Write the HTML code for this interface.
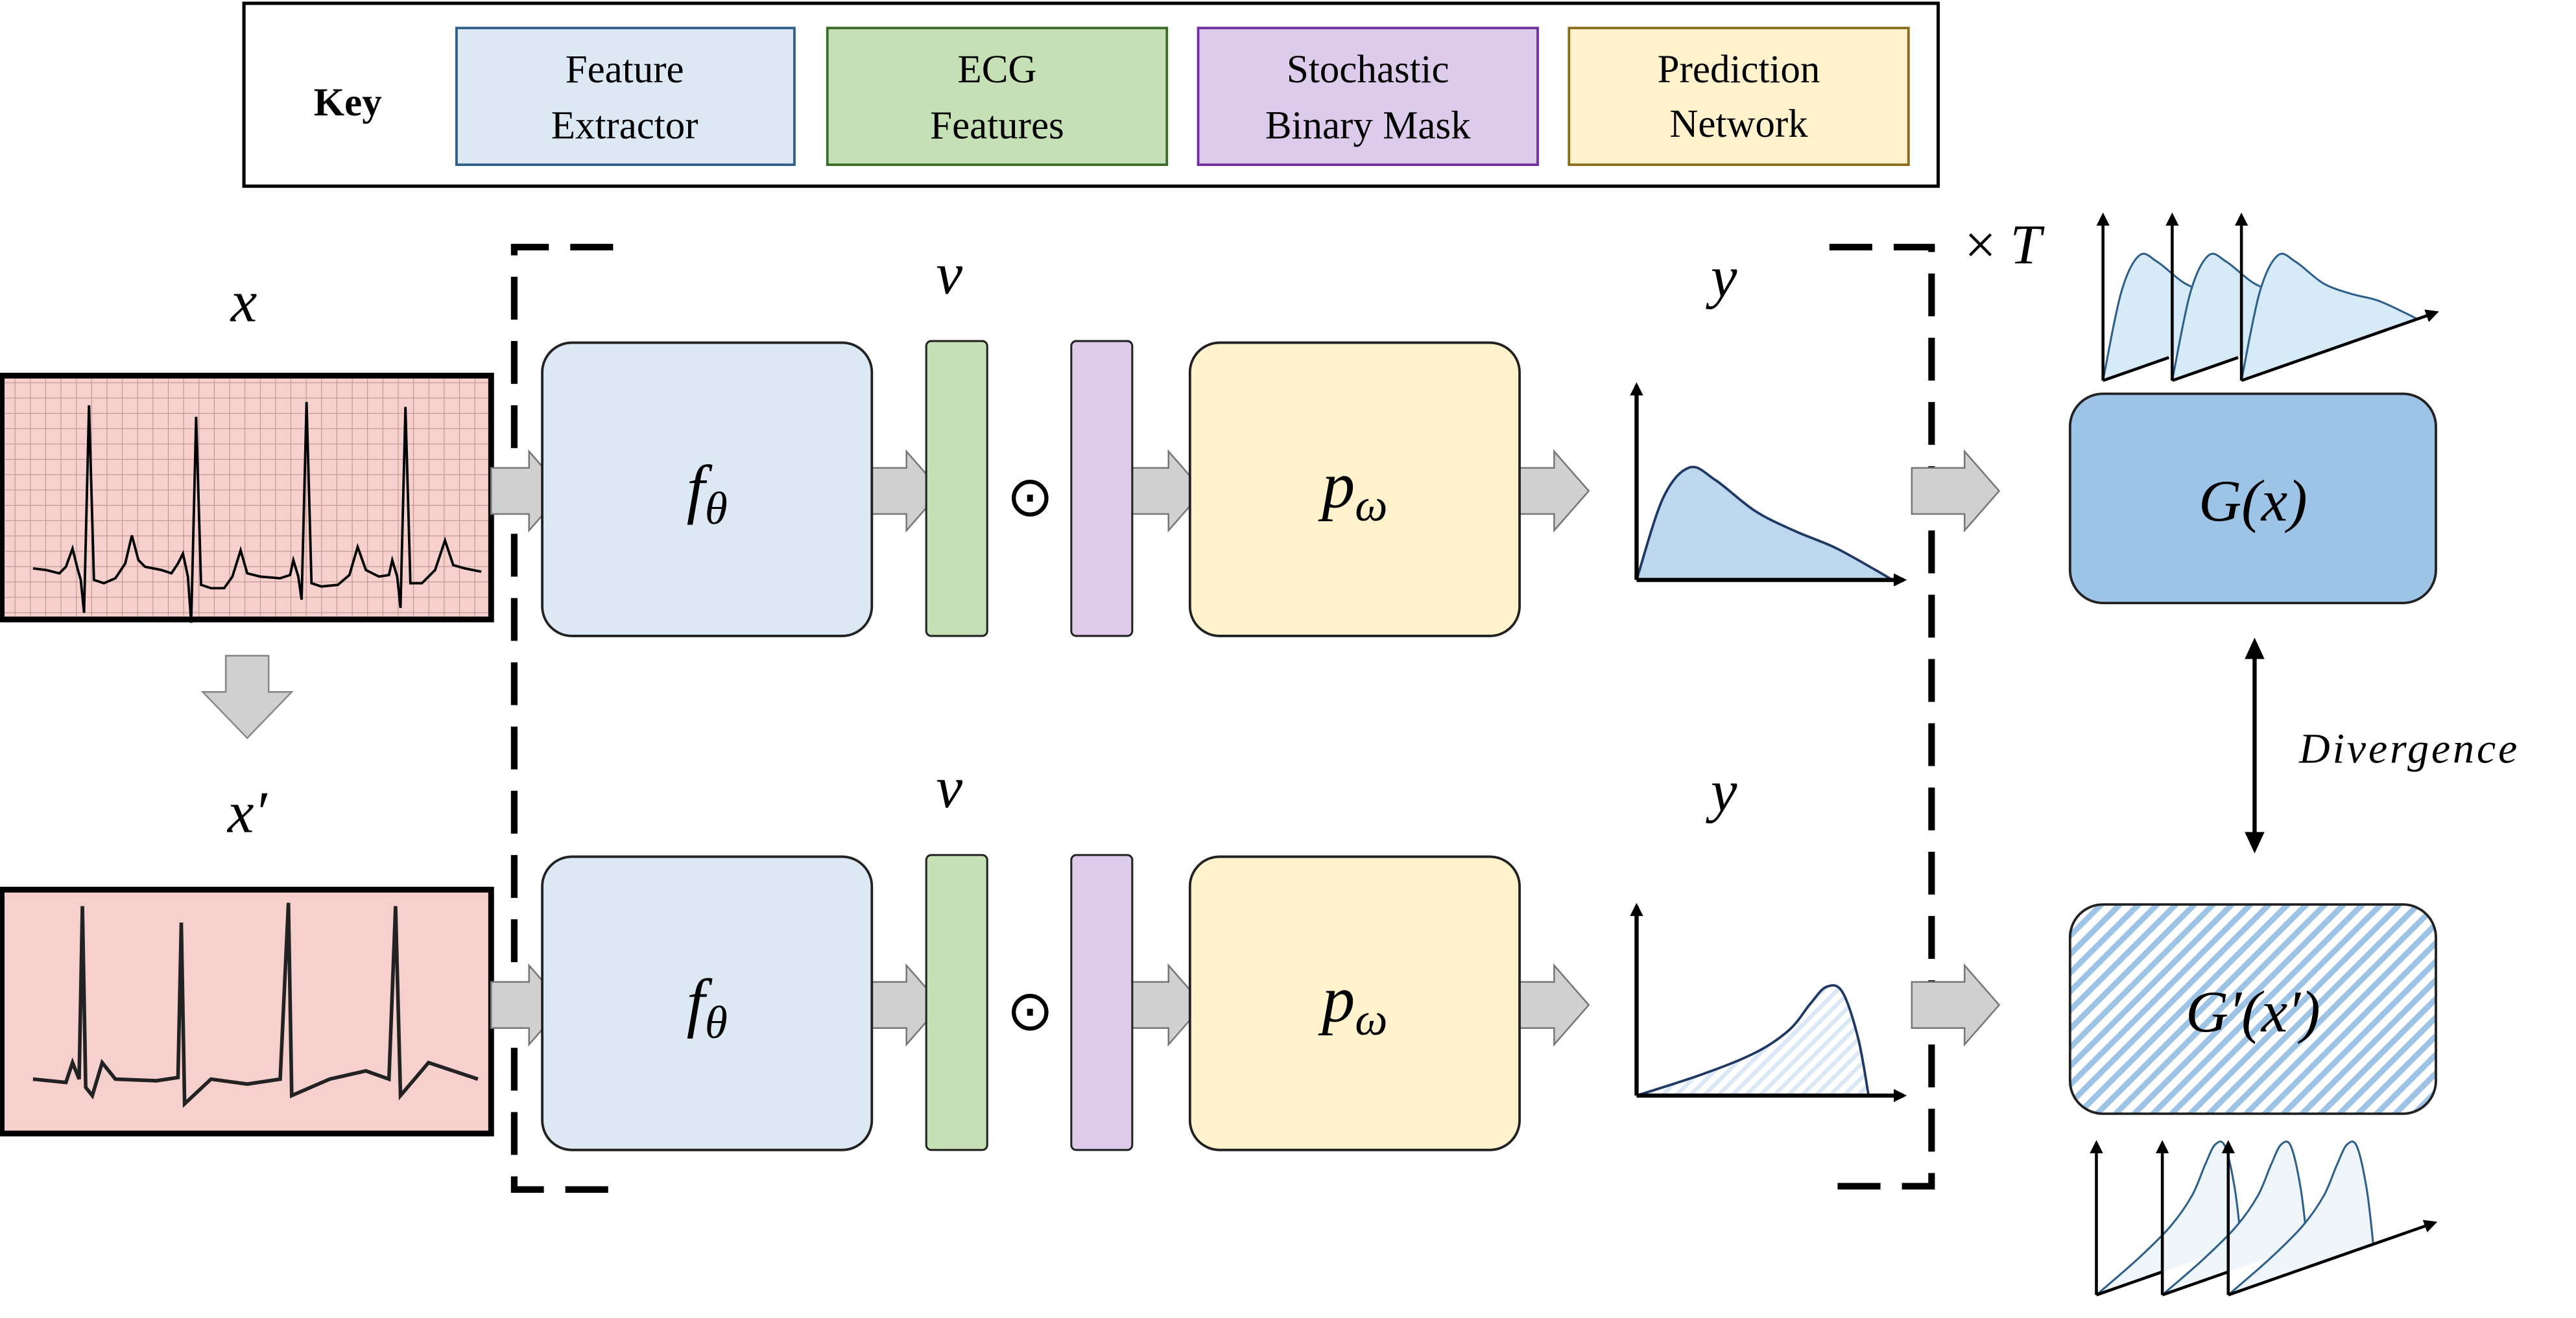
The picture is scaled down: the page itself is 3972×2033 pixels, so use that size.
<!DOCTYPE html>
<html><head><meta charset="utf-8"><style>
html,body{margin:0;padding:0;background:#fff;width:3972px;height:2033px;overflow:hidden}
svg{display:block}
.serif{font-family:"Liberation Serif",serif}
</style></head><body>
<svg id="fig" width="3972" height="2033" viewBox="0 0 1563 800" xmlns="http://www.w3.org/2000/svg">
<defs>
<pattern id="grid" width="9.3" height="9.3" patternUnits="userSpaceOnUse"><path d="M9.3 0V9.3M0 9.3H9.3" stroke="#b8908c" stroke-width="0.8" fill="none"/></pattern>
<pattern id="hatch" width="8" height="8" patternUnits="userSpaceOnUse" patternTransform="rotate(45)"><rect width="8" height="8" fill="#fff"/><rect width="3.5" height="8" fill="#9dc3e6"/></pattern>
<pattern id="hatch2" width="6" height="6" patternUnits="userSpaceOnUse" patternTransform="rotate(45)"><rect width="6" height="6" fill="#fff"/><rect width="2.5" height="6" fill="#dae8f5"/></pattern>
<marker id="ah" markerWidth="8" markerHeight="8" refX="6" refY="4" orient="auto" markerUnits="userSpaceOnUse"><path d="M0,0 L8,4 L0,8z" fill="#000"/></marker>
</defs>

<g>
<rect x="148" y="2" width="1028" height="111" fill="#fff" stroke="#000" stroke-width="2"/>
<text x="211" y="70" font-size="24" font-weight="bold" class="serif" text-anchor="middle">Key</text>
<g><rect x="277" y="17" width="205" height="83" fill="#dde8f5" stroke="#2e5f8a" stroke-width="1.5"/><text x="379" y="50" font-size="24" class="serif" text-anchor="middle">Feature</text><text x="379" y="84" font-size="24" class="serif" text-anchor="middle">Extractor</text></g>
<g><rect x="502" y="17" width="206" height="83" fill="#c5e0b4" stroke="#3a6b2a" stroke-width="1.5"/><text x="605" y="50" font-size="24" class="serif" text-anchor="middle">ECG</text><text x="605" y="84" font-size="24" class="serif" text-anchor="middle">Features</text></g>
<g><rect x="727" y="17" width="206" height="83" fill="#dccbeb" stroke="#7030a0" stroke-width="1.5"/><text x="830" y="50" font-size="24" class="serif" text-anchor="middle">Stochastic</text><text x="830" y="84" font-size="24" class="serif" text-anchor="middle">Binary Mask</text></g>
<g><rect x="952" y="17" width="206" height="83" fill="#fff2cc" stroke="#8a6d1a" stroke-width="1.5"/><text x="1055" y="50" font-size="24" class="serif" text-anchor="middle">Prediction</text><text x="1055" y="83" font-size="24" class="serif" text-anchor="middle">Network</text></g>
</g>

<g stroke="#000" stroke-width="4" fill="none" stroke-dasharray="26 13">
<path d="M372 150 H312 V722 H372"/>
<path d="M1110 150 H1172 V720 H1110"/>
</g>
<text x="1192" y="160" font-size="34" class="serif">× <tspan font-style="italic">T</tspan></text>

<g class="serif" font-style="italic" font-size="36" text-anchor="middle">
<text x="148" y="195">x</text>
<text x="150" y="505">x′</text>
<text x="576" y="178">v</text>
<text x="576" y="490">v</text>
<text x="1046" y="180">y</text>
<text x="1046" y="492">y</text>
</g>

<g>
<rect x="1" y="228" width="297" height="148" fill="#f5d0cc"/>
<rect x="1" y="228" width="297" height="148" fill="url(#grid)"/>
<path d="M40 345 L50 347 L60 348 L70 348 L75 346 L78 339 L81 348 L84 352 L87 368 L90 243 L93 352 L98 353 L104 350 L110 343 L113 330 L117 342 L120 345 L130 346 L150 350 L165 351 L170 349 L173 340 L176 349 L179 353 L182 375 L184 246 L187 358 L192 360 L200 359 L206 350 L210 333 L214 346 L220 350 L240 350 L258 352 L262 340 L266 352 L269 369 L271 241 L274 353 L280 353 L287 341 L292 345" transform="translate(-42,0)" fill="none" stroke="none"/>
<path d="M40 345 L50 347 L62 347 L70 346 L74 350 L78 342 L82 336 L86 348 L89 356 L91 372 L93 243 L96 352 L101 352 L110 350 L116 339 L120 334 L124 344 L130 347 L145 349 L160 351 L172 350 L176 343 L180 349 L184 355 L186 376 L188 263 L191 356 L198 359 L212 361 L218 346 L222 336 L226 349 L236 350 L252 350 L260 351 L264 343 L268 349 L272 353 L274 370 L276 248 L279 356 L286 354 L291 343 L296 345" fill="none" stroke="none"/>
<path d="M40 345 L52 347 L64 348 L78 347 L85 346 L88 340 L92 338 L95 348 L98 352 L101 367 L104 247 L108 351 L114 352 L122 350 L128 341 L132 332 L137 345 L145 347 L160 349 L175 350 L188 350 L192 339 L196 349 L199 354 L202 376 L205 252 L209 357 L216 358 L226 359 L232 345 L236 335 L241 348 L250 350 L266 351 L277 351 L282 338 L286 349 L289 352 L291 368 L293 245 L296 353" fill="none" stroke="none"/>
<path d="M20 345 L28 346 L36 348 L40 344 L44 333 L47 345 L49 352 L51 372 L54 246 L57 352 L63 354 L70 351 L76 342 L80 325 L84 340 L88 344 L98 346 L104 348 L108 342 L111 336 L114 350 L116 378 L119 253 L122 355 L128 357 L136 357 L141 350 L146 334 L150 348 L158 350 L170 351 L176 349 L178 340 L181 350 L183 364 L186 244 L189 354 L195 356 L205 355 L212 349 L217 332 L222 346 L230 350 L236 349 L238 340 L241 350 L243 369 L246 247 L249 354 L256 354 L264 346 L270 328 L275 343 L282 345 L292 347" fill="none" stroke="#000" stroke-width="1.5"/>
<rect x="1" y="228" width="297" height="148" fill="none" stroke="#000" stroke-width="3.5"/>
</g>
<g>
<rect x="1" y="540" width="297" height="148" fill="#f5d0cc"/>
<path d="M20 655 L40 657 L44 645 L48 655 L50 550 L52 660 L56 665 L62 645 L70 655 L95 656 L108 654 L110 560 L112 670 L128 655 L150 658 L170 655 L175 548 L177 665 L200 655 L222 650 L236 655 L240 550 L243 665 L260 645 L290 655" fill="none" stroke="#222" stroke-width="2.2"/>
<rect x="1" y="540" width="297" height="148" fill="none" stroke="#000" stroke-width="3.5"/>
</g>

<path d="M137 398 H163 V420 H177 L150 448 L123 420 H137Z" fill="#d0d0d0" stroke="#888" stroke-width="1"/>

<g id="arrows"></g>

<g>
<rect x="329" y="208" width="200" height="178" rx="18" fill="#dde8f5" stroke="#222" stroke-width="1.5"/>
<text x="429" y="310" font-size="40" class="serif" font-style="italic" text-anchor="middle">f<tspan font-size="28" dy="8">θ</tspan></text>
<rect x="562" y="207" width="37" height="179" rx="3" fill="#c5e0b4" stroke="#222" stroke-width="1.2"/>
<text x="625" y="313" font-size="34" text-anchor="middle" font-family="DejaVu Sans,sans-serif">⊙</text>
<rect x="650" y="207" width="37" height="179" rx="3" fill="#dccbeb" stroke="#222" stroke-width="1.2"/>
<rect x="722" y="208" width="200" height="178" rx="18" fill="#fff2cc" stroke="#222" stroke-width="1.5"/>
<text x="822" y="308" font-size="40" class="serif" font-style="italic" text-anchor="middle">p<tspan font-size="28" dy="8">ω</tspan></text>
</g>
<g>
<rect x="329" y="520" width="200" height="178" rx="18" fill="#dde8f5" stroke="#222" stroke-width="1.5"/>
<text x="429" y="622" font-size="40" class="serif" font-style="italic" text-anchor="middle">f<tspan font-size="28" dy="8">θ</tspan></text>
<rect x="562" y="519" width="37" height="179" rx="3" fill="#c5e0b4" stroke="#222" stroke-width="1.2"/>
<text x="625" y="625" font-size="34" text-anchor="middle" font-family="DejaVu Sans,sans-serif">⊙</text>
<rect x="650" y="519" width="37" height="179" rx="3" fill="#dccbeb" stroke="#222" stroke-width="1.2"/>
<rect x="722" y="520" width="200" height="178" rx="18" fill="#fff2cc" stroke="#222" stroke-width="1.5"/>
<text x="822" y="620" font-size="40" class="serif" font-style="italic" text-anchor="middle">p<tspan font-size="28" dy="8">ω</tspan></text>
</g>

<g id="dist"></g>

<rect x="1256" y="239" width="222" height="127" rx="20" fill="#9dc3e6" stroke="#222" stroke-width="1.5"/>
<text x="1367" y="316" font-size="36" class="serif" font-style="italic" text-anchor="middle">G(x)</text>
<rect x="1256" y="549" width="222" height="127" rx="20" fill="url(#hatch)" stroke="#222" stroke-width="1.5"/>
<text x="1367" y="626" font-size="36" class="serif" font-style="italic" text-anchor="middle">G′(x′)</text>

<g>
<line x1="1368" y1="398" x2="1368" y2="508" stroke="#000" stroke-width="2.5"/>
<path d="M1368 387 L1362 400 L1374 400Z M1368 518 L1362 505 L1374 505Z" fill="#000"/>
</g>
<text x="1395" y="463" font-size="26" class="serif" font-style="italic" letter-spacing="1.5">Divergence</text>
</svg>
<script>
const topDistX=[0,0.1,0.2,0.3,0.45,0.6,0.75,0.9,0.97];
const topDistY=[0,0.45,0.62,0.55,0.38,0.27,0.18,0.06,0];
const botDistX=[0,0.25,0.45,0.58,0.66,0.72,0.78,0.84,0.88];
const botDistY=[0,0.13,0.26,0.4,0.56,0.66,0.63,0.35,0];
const NS="http://www.w3.org/2000/svg";
const svg=document.getElementById('fig');
function mk(tag,attrs,parent){const e=document.createElementNS(NS,tag);for(const k in attrs)e.setAttribute(k,attrs[k]);(parent||svg).appendChild(e);return e;}
const arrowsG=document.getElementById('arrows');
const arrowXs=[[298,342],[529,571],[687,730],[922,964],[1160,1213]];
[298,610].forEach(cy=>{arrowXs.forEach(a=>{
 const [x0,x1]=a,h=14,H=24,hl=21;
 const p=mk('path',{d:`M${x0} ${cy-h} H${x1-hl} V${cy-H} L${x1} ${cy} L${x1-hl} ${cy+H} V${cy+h} H${x0}Z`,fill:'#d0d0d0',stroke:'#777','stroke-width':1},arrowsG);
 
 
});});
const dist=document.getElementById('dist');
function plot(ox,oy,w,h,xs,ys,fill,stroke,lw,name,shear){
 shear=shear||0;
 const pts=xs.map((v,i)=>[ox+v*w, oy-ys[i]*h-shear*v*w]);
 let d=`M${pts[0][0]} ${pts[0][1]}`;
 for(let i=0;i<pts.length-1;i++){
  const p0=pts[Math.max(0,i-1)],p1=pts[i],p2=pts[i+1],p3=pts[Math.min(pts.length-1,i+2)];
  d+=` C${p1[0]+(p2[0]-p0[0])/6} ${p1[1]+(p2[1]-p0[1])/6} ${p2[0]-(p3[0]-p1[0])/6} ${p2[1]-(p3[1]-p1[1])/6} ${p2[0]} ${p2[1]}`;
 }
 const g=mk('g',{},dist);
 
 
 mk('path',{d:d+'Z',fill:fill,stroke:'none'},g);
 mk('path',{d:d,fill:'none',stroke:stroke,'stroke-width':lw},g);
 return g;
}
function axes(g,ox,oy,w,h,sw){
 mk('line',{x1:ox,y1:oy,x2:ox,y2:oy-h,stroke:'#000','stroke-width':sw,'marker-end':'url(#ah)'},g);
 mk('line',{x1:ox,y1:oy,x2:ox+w,y2:oy,stroke:'#000','stroke-width':sw,'marker-end':'url(#ah)'},g);
}
let g1=plot(993,352,160,110,topDistX,topDistY,'#bdd7ee','#1f3864',1.5,'output-distribution-top');axes(g1,993,352,162,118,2.5);
let g2=plot(993,665,160,100,botDistX,botDistY,'url(#hatch2)','#1f3864',1.5,'output-distribution-bottom');axes(g2,993,665,162,115,2.5);
[[1276,231],[1318,231],[1360,231]].forEach((o,i)=>{
 const g=plot(o[0],o[1],110,110,topDistX,topDistY,'#d6eaf8','#2e5f8a',1.2,'sample-distribution-top',0.35);
 mk('line',{x1:o[0],y1:o[1],x2:o[0],y2:o[1]-100,stroke:'#000','stroke-width':1.8,'marker-end':'url(#ah)'},g);
 mk('line',{x1:o[0],y1:o[1],x2:o[0]+(i===2?118:40),y2:o[1]-0.35*(i===2?118:40),stroke:'#000','stroke-width':1.8,'marker-end':i===2?'url(#ah)':''},g);
});
[[1272,786],[1312,786],[1352,786]].forEach((o,i)=>{
 const g=plot(o[0],o[1],100,100,botDistX,botDistY,'#eef5fb','#2e5f8a',1.2,'sample-distribution-bottom',0.35);
 mk('line',{x1:o[0],y1:o[1],x2:o[0],y2:o[1]-92,stroke:'#000','stroke-width':1.8,'marker-end':'url(#ah)'},g);
 mk('line',{x1:o[0],y1:o[1],x2:o[0]+(i===2?125:40),y2:o[1]-0.35*(i===2?125:40),stroke:'#000','stroke-width':1.8,'marker-end':i===2?'url(#ah)':''},g);
});
</script>
</body></html>
